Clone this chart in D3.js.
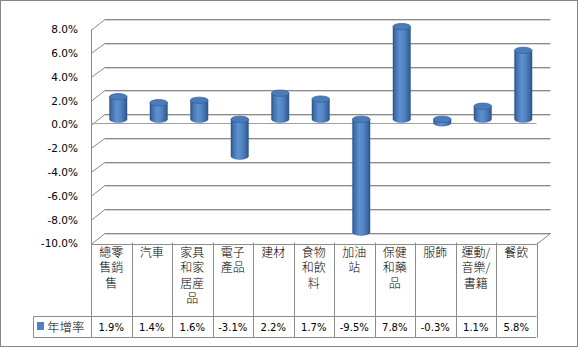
<!DOCTYPE html>
<html>
<head>
<meta charset="utf-8">
<script src="https://cdn.jsdelivr.net/npm/d3@7"></script>
<style>
  html, body { margin: 0; padding: 0; background: #fff; }
  svg { display: block; }
</style>
</head>
<body>
<svg id="chart" width="579" height="348"></svg>
<script>
// Retail sales growth by category (year-over-year)
const categories = ["總零售銷售", "汽車", "家具和家居産品", "電子產品", "建材", "食物和飲料", "加油站", "保健和藥品", "服飾", "運動/音樂/書籍", "餐飲"];
const headerLines = [["總零", "售銷", "售"], ["汽車"], ["家具", "和家", "居産", "品"], ["電子", "產品"], ["建材"], ["食物", "和飲", "料"], ["加油", "站"], ["保健", "和藥", "品"], ["服飾"], ["運動/", "音樂/", "書籍"], ["餐飲"]];
const growth = [1.9, 1.4, 1.6, -3.1, 2.2, 1.7, -9.5, 7.8, -0.3, 1.1, 5.8];
const seriesName = "年增率";
const yTicks = [8, 6, 4, 2, 0, -2, -4, -6, -8, -10];

const svg = d3.select("#chart");
const numFont = "DejaVu Sans, Verdana, sans-serif";
const cjkFont = "'Noto Sans CJK TC', 'Noto Sans CJK JP', sans-serif";

// plot geometry
const plotLeft = 91, plotRight = 536.5, plotTop = 29.5, floorY = 243.5;
const depthX = 14, depthY = -10.5;
const y = d3.scaleLinear().domain([-10, 8]).range([floorY, plotTop]);
const x = d3.scaleBand().domain(categories).range([plotLeft, plotRight]).padding(0);
const fmt = v => v.toFixed(1) + "%";

// outer frame
svg.append("rect").attr("x", 0.5).attr("y", 0.5).attr("width", 577).attr("height", 346)
  .attr("fill", "#fff").attr("stroke", "#868686");

// back-wall gridlines with side-wall diagonals
const grid = svg.append("g");
yTicks.forEach(t => {
  const yf = Math.round(y(t)) + 0.5, yb = Math.round(y(t) + depthY) + 0.5;
  grid.append("line").attr("x1", plotLeft + depthX).attr("x2", plotRight + depthX)
    .attr("y1", yb + 1).attr("y2", yb + 1).attr("stroke", "#d6d6d6");
  grid.append("line").attr("x1", plotLeft + depthX).attr("x2", plotRight + depthX)
    .attr("y1", yb).attr("y2", yb).attr("stroke", "#8a8a8a");
  grid.append("line").attr("x1", plotLeft).attr("y1", yf).attr("x2", plotLeft + depthX).attr("y2", yb)
    .attr("stroke", "#8a8a8a");
});
// floor right edge
grid.append("line").attr("x1", plotRight).attr("y1", Math.round(floorY) + 0.5)
  .attr("x2", plotRight + depthX).attr("y2", Math.round(floorY + depthY) + 0.5).attr("stroke", "#8a8a8a");
// front edge of the value axis wall
grid.append("line").attr("x1", plotLeft + 0.5).attr("x2", plotLeft + 0.5)
  .attr("y1", y(8)).attr("y2", floorY).attr("stroke", "#8a8a8a");
// category axis at zero
grid.append("line").attr("x1", plotLeft).attr("x2", plotRight)
  .attr("y1", Math.round(y(0)) - 1.5).attr("y2", Math.round(y(0)) - 1.5).attr("stroke", "#a0a0a0");

// value axis labels
svg.append("g").selectAll("text").data(yTicks).join("text")
  .attr("x", 78).attr("y", d => y(d)).attr("dy", "0.36em")
  .attr("text-anchor", "end").attr("font-family", numFont).attr("font-size", 10.5)
  .attr("fill", "#000").text(fmt);

// cylinder shading
const defs = svg.append("defs");
const grad = defs.append("linearGradient").attr("id", "cyl").attr("x1", "0").attr("x2", "1").attr("y1", "0").attr("y2", "0");
[[0, "#2c5283"], [0.12, "#416fab"], [0.4, "#5d91d2"], [0.62, "#5485c5"], [0.86, "#3d6aa4"], [1, "#2c5283"]]
  .forEach(([o, c]) => grad.append("stop").attr("offset", o).attr("stop-color", c));

// bars as cylinders at mid depth
const rx = 8.8, ry = 3.2;
const ym = v => y(v) + depthY / 2;
const bars = svg.append("g");
categories.forEach((c, i) => {
  const v = growth[i];
  const cx = x(c) + x.bandwidth() / 2 + depthX / 2;
  const yTop = ym(Math.max(v, 0)), yBot = ym(Math.min(v, 0));
  bars.append("path")
    .attr("d", `M${cx - rx},${yTop} L${cx - rx},${yBot} A${rx},${ry} 0 0 0 ${cx + rx},${yBot} L${cx + rx},${yTop} Z`)
    .attr("fill", "url(#cyl)").attr("stroke", "#35609a").attr("stroke-width", 0.4);
  bars.append("ellipse").attr("cx", cx).attr("cy", yTop).attr("rx", rx).attr("ry", ry)
    .attr("fill", "#4a7bbb").attr("stroke", "#3a6598").attr("stroke-width", 0.8);
});

// data table
const table = svg.append("g");
const hTop = Math.round(floorY) + 0.5, hBot = 316.5, vBot = 337.5, legLeft = 33.5;
const lineCol = "#8c8c8c";
table.append("line").attr("x1", plotLeft).attr("x2", plotRight).attr("y1", hTop).attr("y2", hTop).attr("stroke", lineCol);
table.append("line").attr("x1", legLeft).attr("x2", plotRight).attr("y1", hBot).attr("y2", hBot).attr("stroke", lineCol);
table.append("line").attr("x1", legLeft).attr("x2", plotRight).attr("y1", vBot).attr("y2", vBot).attr("stroke", lineCol);
table.append("line").attr("x1", legLeft).attr("x2", legLeft).attr("y1", hBot).attr("y2", vBot).attr("stroke", lineCol);
const bounds = categories.map(c => x(c)).concat([plotRight]);
bounds.forEach(b => {
  const bx = Math.round(b) + 0.5;
  table.append("line").attr("x1", bx).attr("x2", bx).attr("y1", hTop - 2).attr("y2", vBot).attr("stroke", lineCol);
});

// category headers
categories.forEach((c, i) => {
  const cx = x(c) + x.bandwidth() / 2;
  headerLines[i].forEach((ln, j) => {
    table.append("text").attr("x", cx).attr("y", 252.5 + j * 15.5).attr("dy", "0.36em")
      .attr("text-anchor", "middle").attr("font-family", cjkFont).attr("font-size", 12)
      .attr("font-weight", 300).attr("fill", "#000").text(ln);
  });
  table.append("text").attr("x", cx).attr("y", 327).attr("dy", "0.36em")
    .attr("text-anchor", "middle").attr("font-family", numFont).attr("font-size", 10)
    .attr("fill", "#000").text(fmt(growth[i]));
});

// legend key in the table
table.append("rect").attr("x", 37).attr("y", 322).attr("width", 7).attr("height", 8).attr("fill", "#4f81bd");
table.append("text").attr("x", 47).attr("y", 327).attr("dy", "0.36em")
  .attr("font-family", cjkFont).attr("font-size", 12.5).attr("font-weight", 300)
  .attr("fill", "#000").text(seriesName);
</script>
</body>
</html>
